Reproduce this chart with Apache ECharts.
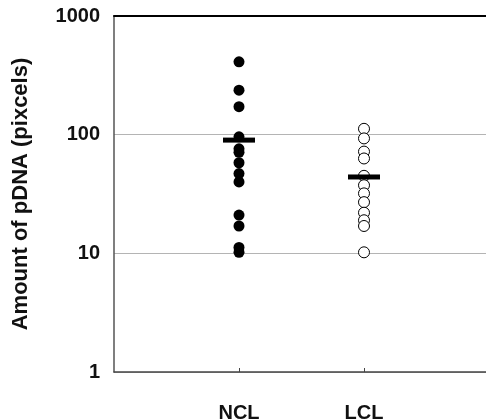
<!DOCTYPE html>
<html>
<head>
<meta charset="utf-8">
<script src="https://cdn.jsdelivr.net/npm/echarts@6/dist/echarts.min.js"></script>
<style>
html,body{margin:0;padding:0;background:#fff;}
#chart{width:486px;height:420px;}
</style>
</head>
<body>
<div id="chart"></div>
<script>
const categories = ['NCL', 'LCL'];
const nclValues = [411, 237, 172, 96, 76, 71, 58, 47, 40, 21, 17, 11.2, 10.2];
const lclValues = [112, 93, 72, 63, 45, 37.5, 32, 27, 22, 19, 17, 10.2];
const means = [90, 44];
const yTicks = [1, 10, 100, 1000];

const chart = echarts.init(document.getElementById('chart'), null, {renderer: 'canvas'});
const font = 'Arial, "Liberation Sans", Helvetica, sans-serif';

const option = {
  animation: false,
  backgroundColor: '#fff',
  grid: {left: 114, top: 16, bottom: 48, width: 375, containLabel: false, outerBoundsMode: 'none'},
  xAxis: [{
    type: 'value', min: 0, max: 3, interval: 1, position: 'bottom',
    axisLine: {show: true, lineStyle: {color: '#444', width: 1.5}},
    axisTick: {show: true, inside: true, length: 4, customValues: [1, 2], lineStyle: {color: '#444'}},
    axisLabel: {
      show: true, customValues: [1, 2], margin: 31,
      formatter: v => categories[Math.round(v) - 1] || '',
      color: '#111', fontWeight: 'bold', fontSize: 20, fontFamily: font
    },
    splitLine: {show: false}
  }, {
    type: 'value', min: 0, max: 3, position: 'top',
    axisLine: {show: true, onZero: false, lineStyle: {color: '#000', width: 2}},
    axisTick: {show: false}, axisLabel: {show: false}, splitLine: {show: false}
  }],
  yAxis: {
    type: 'log', logBase: 10, min: 1, max: 1000,
    name: 'Amount of pDNA (pixcels)', nameLocation: 'middle', nameGap: 82,
    nameTextStyle: {color: '#111', fontWeight: 'bold', fontSize: 22, fontFamily: font},
    axisLine: {show: true, lineStyle: {color: '#555', width: 1.5}},
    axisTick: {show: false},
    axisLabel: {
      margin: 14, color: '#111', fontWeight: 'bold', fontSize: 20, fontFamily: font,
      formatter: v => String(yTicks.find(t => Math.abs(t - v) < 1e-6 * t) ?? v)
    },
    splitLine: {show: true, lineStyle: {color: '#b4b4b4', width: 1}}
  },
  series: [{
    type: 'scatter', name: categories[0], symbol: 'circle', symbolSize: 11,
    itemStyle: {color: '#000', opacity: 1},
    data: nclValues.map(v => [1, v]), z: 3
  }, {
    type: 'scatter', name: categories[1], symbol: 'circle', symbolSize: 11,
    itemStyle: {color: '#fff', borderColor: '#000', borderWidth: 1, opacity: 1},
    data: lclValues.map(v => [2, v]), z: 3
  }, {
    type: 'scatter', name: 'mean', symbol: 'rect', symbolSize: [32, 5],
    itemStyle: {color: '#000', opacity: 1},
    data: means.map((v, i) => [i + 1, v]), z: 5
  }]
};
chart.setOption(option);
</script>
</body>
</html>
